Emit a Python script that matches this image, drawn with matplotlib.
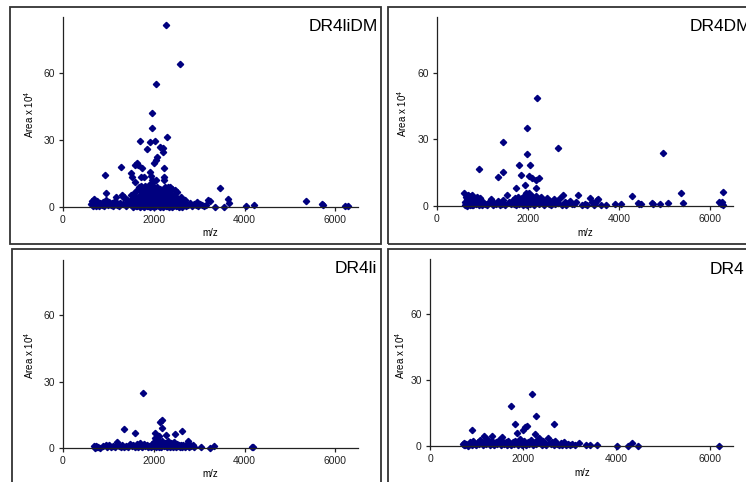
import matplotlib.pyplot as plt
from matplotlib.patches import Rectangle

plt.rcParams['font.family'] = ['Liberation Sans', 'DejaVu Sans']
plt.rcParams['mathtext.fontset'] = 'custom'
plt.rcParams['mathtext.rm'] = 'Liberation Sans'
plt.rcParams['mathtext.default'] = 'regular'

# -------------------------------
# data (m/z, area x 10^4)
# -------------------------------
mz_dr4lidm = [
    2272, 2588, 2059, 1956, 1963, 2294, 1706, 1912, 2022, 2140,
    2213, 2200, 1860, 2067, 2045, 2015, 1625, 1661, 1595, 1750,
    1287, 933, 1493, 1530, 1581, 1720, 1780, 1927, 1935, 1963,
    1993, 2045, 2228, 2221, 2235, 949, 2243, 2309, 2360, 2411,
    2471, 2515, 3463, 3640, 3647, 3205, 3236, 4022, 4199, 3353,
    3537, 1169, 5360, 5706, 5720, 6220, 6290, 963, 1294, 1331,
    1405, 1500,
    610, 640, 660, 680, 700, 720, 740, 760, 790, 820,
    850, 880, 910, 940, 960, 990, 1020, 1050, 1080, 1110,
    1140, 1200, 1230, 1260, 1320, 1350, 1380, 1410, 1440, 1470,
    1520, 1540, 1560, 1580, 1600, 1610, 1630, 1650, 1660, 1680,
    1690, 1700, 1710, 1720, 1730, 1740, 1750, 1760, 1770, 1780,
    1790, 1800, 1810, 1820, 1830, 1840, 1850, 1860, 1870, 1880,
    1890, 1900, 1910, 1920, 1930, 1940, 1950, 1960, 1970, 1980,
    1990, 2000, 2010, 2020, 2030, 2040, 2050, 2060, 2070, 2080,
    2090, 2100, 2110, 2120, 2130, 2140, 2150, 2160, 2170, 2180,
    2190, 2200, 2210, 2220, 2230, 2240, 2250, 2260, 2270, 2280,
    2290, 2300, 2310, 2320, 2330, 2340, 2350, 2360, 2370, 2380,
    2390, 2400, 2410, 2420, 2430, 2440, 2450, 2460, 2470, 2480,
    2490, 2500, 2520, 2540, 2560, 2580, 2600, 2620, 2640, 2660,
    2680, 2700, 2720, 2760, 2800, 2840, 2880, 2920, 2950, 2980,
    3020, 3060, 3100, 3150,
    1550, 1620, 1700, 1780, 1850, 1920, 2000, 2060, 2130, 2200,
    2260, 2330, 2400, 2480, 2550, 2620, 1740, 1800, 1880, 1960,
]
area_dr4lidm = [
    81.2, 63.9, 55.1, 42.0, 35.5, 31.2, 29.4, 29.0, 29.7, 26.9,
    24.8, 26.5, 26.0, 22.5, 21.0, 19.8, 19.5, 18.8, 18.7, 17.3,
    17.9, 14.2, 15.4, 13.3, 11.2, 13.3, 13.3, 15.5, 13.7, 12.1,
    11.2, 12.1, 17.3, 13.3, 12.1, 6.1, 8.8, 8.8, 8.8, 7.9,
    7.6, 6.9, 8.4, 3.4, 1.9, 3.1, 2.5, 0.4, 0.8, 0.1,
    0.1, 4.6, 2.8, 1.3, 0.9, 0.6, 0.6, 2.4, 5.4, 4.6,
    3.1, 5.4,
    1.2, 2.5, 0.6, 3.4, 1.8, 0.4, 2.9, 1.1, 0.3, 1.6,
    0.8, 2.1, 0.5, 3.0, 1.4, 0.7, 2.2, 0.9, 1.7, 0.4,
    2.6, 1.0, 0.5, 2.0, 1.3, 4.4, 0.6, 3.1, 2.4, 1.5,
    3.8, 1.0, 6.2, 2.4, 0.5, 4.5, 7.5, 1.8, 3.6, 8.8,
    0.7, 5.4, 2.6, 9.3, 1.2, 6.8, 3.9, 0.4, 8.1, 4.7,
    2.0, 7.2, 9.6, 0.9, 5.9, 3.1, 8.4, 1.5, 6.5, 4.2,
    9.8, 2.7, 7.7, 0.6, 5.1, 8.9, 3.4, 1.1, 6.9, 9.4,
    4.6, 2.2, 7.9, 0.8, 5.6, 8.6, 3.0, 1.4, 6.3, 9.1,
    4.0, 2.5, 7.4, 0.5, 5.3, 8.2, 3.6, 1.7, 6.6, 4.4,
    2.1, 7.0, 0.9, 5.0, 3.2, 8.0, 1.3, 6.1, 4.1, 2.3,
    0.6, 5.5, 3.0, 7.3, 1.6, 4.8, 2.6, 0.7, 6.0, 3.5,
    1.2, 5.2, 2.8, 0.4, 4.3, 1.9, 3.7, 0.8, 5.0, 2.4,
    1.0, 4.0, 2.2, 0.6, 3.3, 1.4, 4.6, 0.9, 2.5, 1.1,
    3.0, 0.5, 1.6, 0.8, 1.9, 0.4, 1.3, 0.7, 2.1, 0.5,
    1.5, 0.9, 0.3, 1.1,
    0.2, 0.3, 0.1, 0.2, 0.3, 0.1, 0.2, 0.3, 0.1, 0.2,
    0.3, 0.1, 0.2, 0.3, 0.1, 0.2, 3.0, 1.0, 0.5, 0.4,
]

mz_dr4dm = [
    2198, 1971, 1451, 2667, 4961, 1971, 1810, 2051, 917, 1451,
    1334, 1846, 2029, 2095, 2176, 2249, 1934, 2169, 1736, 1963,
    2029, 5357, 6287, 4280, 3106, 2777, 5401, 5080, 4720, 4740,
    4440, 4490, 4900, 3900, 4030, 3546, 3350, 3710, 6200, 6240,
    6290, 3055, 3510, 4411, 6250,
    600, 610, 620, 630, 640, 650, 660, 670, 680, 690,
    700, 710, 720, 730, 740, 750, 760, 770, 780, 790,
    800, 820, 840, 860, 880, 900, 920, 940, 960, 990,
    1020, 1060, 1100, 1140, 1180, 1220, 1260, 1300, 1340, 1380,
    1420, 1460, 1500, 1546, 1580, 1620, 1660, 1700, 1720, 1740,
    1760, 1780, 1800, 1820, 1840, 1860, 1880, 1900, 1920, 1940,
    1960, 1980, 2000, 2010, 2020, 2040, 2060, 2080, 2100, 2120,
    2140, 2160, 2180, 2200, 2220, 2240, 2260, 2280, 2300, 2330,
    2360, 2390, 2420, 2450, 2480, 2510, 2540, 2570, 2600, 2630,
    2660, 2700, 2740, 2800, 2840, 2880, 2920, 2960, 3000, 3180,
    3250, 3300, 3400, 3450, 3480, 3600,
]
area_dr4dm = [
    48.7, 34.9, 28.7, 26.3, 23.9, 23.3, 18.5, 18.5, 16.7, 15.5,
    12.9, 14.0, 13.7, 12.5, 11.7, 12.5, 9.6, 8.3, 8.0, 6.0,
    6.0, 5.7, 6.2, 4.5, 5.0, 5.0, 1.5, 1.5, 1.4, 0.9,
    0.8, 0.8, 0.7, 0.9, 0.8, 3.0, 3.6, 0.3, 1.8, 1.0,
    0.6, 1.9, 2.7, 1.2, 2.0,
    5.9, 2.0, 0.5, 4.2, 1.3, 3.1, 0.2, 5.0, 2.6, 0.8,
    4.4, 1.7, 3.6, 0.4, 2.9, 1.1, 4.8, 0.6, 2.2, 3.8,
    0.3, 1.5, 3.3, 0.7, 4.0, 1.9, 0.4, 3.5, 1.2, 0.6,
    2.0, 0.9, 0.3, 1.6, 3.2, 0.5, 1.4, 0.8, 2.3, 0.4,
    1.0, 2.8, 0.6, 5.0, 1.8, 0.7, 2.5, 1.1, 3.4, 0.3,
    2.0, 4.1, 0.8, 2.9, 1.4, 3.7, 0.5, 2.2, 4.6, 1.0,
    3.0, 0.4, 5.2, 1.8, 3.5, 0.7, 2.6, 4.3, 1.2, 3.1,
    0.5, 2.4, 4.7, 1.6, 3.3, 0.9, 2.1, 4.0, 1.3, 2.8,
    0.6, 1.9, 3.6, 1.0, 2.4, 0.4, 1.5, 3.0, 0.8, 2.2,
    1.2, 3.4, 0.6, 1.7, 0.5, 1.3, 2.4, 0.7, 1.1, 0.4,
    1.0, 0.5, 1.8, 0.6, 1.2, 0.4,
]

mz_dr4li = [
    1772, 2190, 2147, 2190, 1346, 1588, 2030, 2265, 2618, 2478,
    2125, 2030, 2067, 1191, 2750, 3038, 3230, 3330, 4160, 4190,
    690, 710, 730, 750, 780, 820, 880, 940, 980, 1010,
    1060, 1100, 1150, 1230, 1270, 1310, 1350, 1390, 1430, 1470,
    1510, 1550, 1580, 1620, 1660, 1690, 1720, 1750, 1780, 1810,
    1840, 1870, 1900, 1930, 1960, 1990, 2010, 2030, 2050, 2070,
    2090, 2110, 2130, 2150, 2170, 2190, 2210, 2230, 2250, 2270,
    2290, 2310, 2330, 2350, 2370, 2390, 2410, 2430, 2450, 2470,
    2490, 2510, 2530, 2550, 2570, 2590, 2620, 2650, 2680, 2710,
    2740, 2780, 2800, 2830, 2860, 2890,
]
area_dr4li = [
    24.7, 12.6, 11.6, 8.9, 8.7, 6.9, 6.9, 5.7, 7.7, 6.2,
    5.5, 4.4, 3.6, 2.8, 3.2, 0.6, 0.1, 1.0, 0.3, 0.3,
    0.9, 0.2, 1.0, 0.4, 0.6, 0.2, 0.8, 1.5, 0.5, 1.2,
    0.3, 0.7, 0.4, 0.9, 0.3, 1.3, 0.6, 1.0, 0.4, 1.6,
    0.7, 1.2, 0.3, 1.8, 0.6, 2.2, 1.0, 0.4, 1.9, 0.7,
    1.4, 0.3, 1.1, 0.5, 1.7, 0.8, 2.6, 1.3, 0.4, 3.6,
    1.9, 0.6, 2.8, 1.2, 0.3, 3.3, 1.6, 0.7, 2.4, 1.0,
    0.4, 3.0, 1.4, 0.6, 2.1, 0.9, 1.7, 0.3, 2.5, 1.1,
    0.5, 1.9, 0.8, 1.4, 0.4, 1.2, 0.6, 1.5, 0.3, 1.0,
    2.0, 0.5, 1.2, 0.7, 1.4, 0.4,
]

mz_dr4 = [
    2179, 1743, 2271, 1821, 2657, 2071, 2036, 1986, 1857, 907,
    2257, 1150, 1322, 1536, 2536, 2343, 3186, 3350, 3440, 3590,
    4014, 4243, 4343, 4464, 6208, 700, 750,
    720, 740, 760, 780, 820, 860, 900, 930, 960, 990,
    1020, 1050, 1080, 1110, 1140, 1170, 1200, 1230, 1260, 1290,
    1320, 1350, 1380, 1410, 1440, 1470, 1500, 1530, 1560, 1590,
    1620, 1650, 1680, 1710, 1740, 1770, 1800, 1830, 1860, 1890,
    1920, 1950, 1980, 2010, 2040, 2070, 2100, 2130, 2160, 2190,
    2220, 2250, 2280, 2310, 2370, 2400, 2430, 2460, 2490, 2560,
    2590, 2620, 2650, 2690, 2720, 2760, 2800, 2840, 2880, 2920,
    2960, 3000, 3050, 3100,
]
area_dr4 = [
    23.5, 18.3, 13.8, 10.1, 10.1, 9.2, 8.5, 7.3, 5.8, 7.1,
    5.3, 4.5, 4.5, 4.0, 3.8, 3.5, 1.2, 0.3, 0.3, 0.5,
    0.1, 0.1, 1.2, 0.1, 0.1, 0.8, 1.0,
    0.3, 1.4, 0.5, 1.1, 0.2, 1.6, 0.6, 2.3, 1.0, 0.3,
    1.8, 0.7, 2.8, 1.2, 0.4, 2.1, 0.9, 3.0, 1.5, 0.5,
    2.4, 1.1, 0.3, 1.9, 0.8, 2.6, 1.3, 0.4, 2.0, 0.9,
    1.6, 0.3, 2.2, 1.0, 0.5, 1.8, 0.7, 2.5, 1.2, 0.4,
    3.2, 1.5, 0.6, 2.3, 1.1, 0.3, 1.9, 0.8, 2.7, 1.3,
    0.5, 2.0, 1.0, 3.0, 1.4, 0.6, 2.2, 1.0, 0.4, 1.5,
    0.7, 1.8, 0.5, 2.2, 1.0, 0.4, 1.2, 0.6, 1.6, 0.5,
    1.0, 0.3, 0.8, 0.4,
]

names = ["DR4liDM", "DR4DM", "DR4li", "DR4"]
x_ticks = [0, 2000, 4000, 6000]
y_ticks = [0, 30, 60]

# -------------------------------
# layout in pixels (746 x 482 canvas)
# -------------------------------
W, H = 746, 482
fig = plt.figure(figsize=(W / 100, H / 100), dpi=100)
navy = "#00007f"

# axes: x0, x1 (at 6500), y of zero, y of top (85)
axes_px = [
    (63, 358, 207, 17),
    (437, 733, 206, 17),
    (63, 358, 448, 260),
    (430, 733, 446, 259),
]
boxes_px = [(10, 7, 381, 244), (388, 7, 760, 244),
            (12, 249, 381, 495), (388, 249, 760, 495)]
title_px = [(378, 31, "right"), (690, 31, "left"),
            (377, 273, "right"), (710, 274, "left")]
ylab_px = [(29, 114), (402, 113), (29, 355), (400, 355)]
xlab_px = [(210, 233), (585, 233), (210, 474), (582, 473)]

series = [(mz_dr4lidm, area_dr4lidm), (mz_dr4dm, area_dr4dm),
          (mz_dr4li, area_dr4li), (mz_dr4, area_dr4)]

for i, (mz, area) in enumerate(series):
    x0, x1, yb, yt = axes_px[i]
    ax = fig.add_axes([x0 / W, 1 - yb / H, (x1 - x0) / W, (yb - yt) / H])
    ax.plot(mz, area, linestyle="none", marker="D", ms=3.2,
            color=navy, mec=navy, clip_on=False)
    ax.set_xlim(0, 6500)
    ax.set_ylim(0, 85)
    ax.set_xticks(x_ticks)
    ax.set_yticks(y_ticks)
    ax.patch.set_alpha(0)
    for s in ["top", "right"]:
        ax.spines[s].set_visible(False)
    for s in ["left", "bottom"]:
        ax.spines[s].set_linewidth(0.9)
        ax.spines[s].set_color("#222222")
    ax.tick_params(direction="out", length=3, width=0.9, labelsize=7.5,
                   colors="#222222", pad=3)

    # panel frame
    bx0, by0, bx1, by1 = boxes_px[i]
    fig.add_artist(Rectangle((bx0 / W, 1 - by1 / H), (bx1 - bx0) / W,
                             (by1 - by0) / H, transform=fig.transFigure,
                             fill=False, lw=1.3, ec="#333333"))

    tx, ty, ha = title_px[i]
    fig.text(tx / W, 1 - ty / H, names[i], ha=ha, va="baseline", fontsize=12.5)
    lx, ly = ylab_px[i]
    fig.text(lx / W, 1 - ly / H, "Area x 10$^4$", rotation=90,
             ha="center", va="center", fontsize=7)
    mx, my = xlab_px[i]
    fig.text(mx / W, 1 - my / H, "m/z", ha="center", va="center", fontsize=7)

plt.savefig("out.png", dpi=100)
